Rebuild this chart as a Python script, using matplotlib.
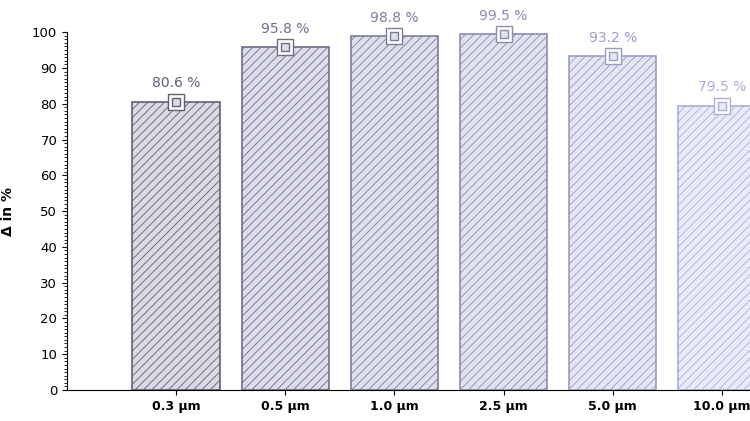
import matplotlib.pyplot as plt
from matplotlib.ticker import MultipleLocator

# particle size classes and measured values
sizes = ['0.3 µm', '0.5 µm', '1.0 µm', '2.5 µm', '5.0 µm', '10.0 µm']
values = [80.6, 95.8, 98.8, 99.5, 93.2, 79.5]

# per-bar styling: darker grey for small sizes, lighter blue for big ones
edge_colors = ['#606074', '#6e6e86', '#7d7d9a', '#8c8cae', '#9c9cc2', '#acacd6']
fill_colors = ['#d8d9e3', '#dbdce8', '#dedfec', '#e1e2f0', '#e4e5f5', '#e9eaf9']

plt.rcParams['hatch.linewidth'] = 0.6

fig = plt.figure(figsize=(7.5, 4.21), dpi=100)
ax = fig.add_axes([0.0893, 0.0736, 1.0187, 0.850])

x = range(len(sizes))
for i, (v, ec, fc) in enumerate(zip(values, edge_colors, fill_colors)):
    ax.bar(i, v, width=0.8, color=fc, edgecolor=ec, hatch='////', linewidth=1.2, zorder=2)
    ax.plot(i, v, marker='s', markersize=11, markerfacecolor='white',
            markeredgecolor=ec, markeredgewidth=1.0, zorder=3, clip_on=False)
    ax.plot(i, v, marker='s', markersize=5.5, markerfacecolor=fc,
            markeredgecolor=ec, markeredgewidth=1.0, zorder=4, clip_on=False)
    ax.annotate(f'{v:.1f} %', (i, v), xytext=(0, 8), textcoords='offset points',
                ha='center', va='bottom', fontsize=10, color=ec)

ax.set_xlim(-1, 6)
ax.set_ylim(0, 100)
ax.set_xticks(list(x))
ax.set_xticklabels(sizes, fontweight='bold', fontsize=9)
ax.yaxis.set_major_locator(MultipleLocator(10))
ax.yaxis.set_minor_locator(MultipleLocator(1))
ax.tick_params(axis='y', labelsize=9.5)
ax.tick_params(axis='y', which='minor', length=2, width=0.6)
ax.set_ylabel('Δ in %', fontweight='bold', fontsize=10)
ax.yaxis.set_label_coords(-0.068, 0.5)

ax.spines['top'].set_visible(False)
ax.spines['right'].set_visible(False)

fig.savefig('out.png', dpi=100)
